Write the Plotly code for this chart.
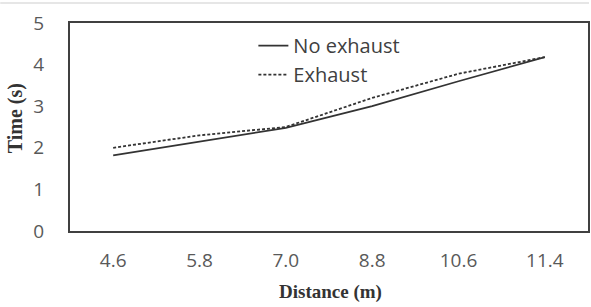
import plotly.graph_objects as go

distance = ["4.6", "5.8", "7.0", "8.8", "10.6", "11.4"]
no_exhaust = [1.82, 2.15, 2.48, 3.0, 3.6, 4.18]
exhaust = [2.0, 2.3, 2.5, 3.2, 3.78, 4.18]
y_ticks = [0, 1, 2, 3, 4, 5]

fig = go.Figure()
fig.add_trace(go.Scatter(x=distance, y=no_exhaust, mode="lines", name="No exhaust",
                         line=dict(color="#333333", width=1.8)))
fig.add_trace(go.Scatter(x=distance, y=exhaust, mode="lines", name="Exhaust",
                         line=dict(color="#333333", width=1.8, dash="3px,2px")))

title_font = dict(family="Liberation Serif, Times New Roman, serif", color="#333333")

fig.update_layout(
    width=591, height=307,
    margin=dict(l=70, r=1, t=23, b=76),
    paper_bgcolor="white", plot_bgcolor="white",
    font=dict(family="Open Sans, sans-serif", color="#595959", size=19),
    legend=dict(x=0.354, y=0.985, xanchor="left", yanchor="top",
                bgcolor="rgba(0,0,0,0)", font=dict(size=20, color="#404040"),
                tracegroupgap=0, itemwidth=30),
    showlegend=True,
)
fig.add_shape(type="line", xref="paper", yref="paper",
              x0=-70 / 520, x1=1 + 1 / 520, y0=1.096, y1=1.096,
              line=dict(color="#e6e6e6", width=2))
fig.add_annotation(text="<b>Distance (m)</b>", xref="paper", yref="paper",
                   x=0.502, y=-0.293, xanchor="center", yanchor="middle",
                   showarrow=False, font=dict(size=19, **title_font))
fig.add_annotation(text="<b>Time (s)</b>", xref="paper", yref="paper",
                   x=-0.1058, y=0.543, xanchor="center", yanchor="middle",
                   textangle=-90, showarrow=False, font=dict(size=20, **title_font))
fig.update_xaxes(type="category", range=[-0.5, 5.5], showgrid=False,
                 showline=True, linecolor="#404040", linewidth=2, mirror=True,
                 ticks="", ticklabelstandoff=11)
fig.update_yaxes(range=[0, 5], tickvals=y_ticks, showgrid=False,
                 showline=True, linecolor="#404040", linewidth=2, mirror=True,
                 ticks="", ticklabelstandoff=20, zeroline=False)

fig.write_html("out.html", config={"displayModeBar": False},
               post_script="document.body.style.margin='0';document.body.style.padding='0';")
